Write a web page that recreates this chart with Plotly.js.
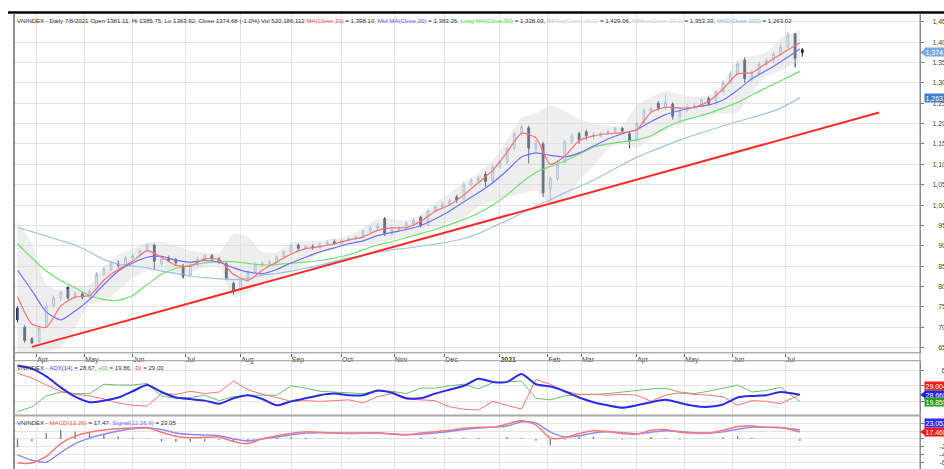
<!DOCTYPE html>
<html><head><meta charset="utf-8">
<script src="https://cdn.plot.ly/plotly-3.0.1.min.js"></script>
<style>html,body{margin:0;padding:0;background:#fff;overflow:hidden}#chart{width:944px;height:469px}</style>
</head><body><div id="chart"></div>
<script>
// ---- x axis: trading-day index (0 = 1 Apr 2020) ----
const monthTickDays = [0,20,40,62,85,106,127,149,170,193,213,227,250,270,290,312];
const monthTickText = ['Apr','May','Jun','Jul','Aug','Sep','Oct','Nov','Dec','<b>2021</b>','Feb','Mar','Apr','May','Jun','Jul'];

// ---- price candles (one candle every 3 trading days, last = 8 Jul 2021) ----
const openP = [747,700,672,666,700,754,772,798,772,782, 774,790,830,842,856,852,870,876,888,902, 856,868,866,850,828,856,866,876,868,856, 808,795,816,835,854,857,860,872,886,902, 894,898,896,904,910,906,914,918,922,936, 944,966,930,940,942,955,970,952,986,996, 1002,1020,1015,1050,1060,1076,1060,1094,1106,1140, 1178,1190,1138,1150,1040,1065,1105,1155,1175,1180, 1168,1170,1176,1180,1188,1175,1160,1202,1232,1250, 1238,1248,1218,1232,1240,1244,1262,1250,1278,1300, 1322,1356,1310,1322,1345,1355,1370,1388,1420,1381.11];
const highP = [752,705,676,702,760,778,790,800,788,786, 792,836,848,862,864,874,882,892,906,905, 874,876,870,856,858,872,880,880,872,860, 812,820,840,860,862,866,876,890,908,906, 902,904,908,914,916,918,922,926,940,948, 955,970,946,948,960,968,974,990,1000,1008, 1016,1025,1058,1066,1072,1082,1100,1110,1142,1180, 1198,1195,1160,1155,1070,1110,1160,1176,1180,1185, 1178,1180,1186,1192,1192,1180,1205,1238,1242,1255, 1272,1252,1238,1248,1252,1262,1266,1282,1306,1328, 1352,1362,1330,1352,1362,1376,1395,1424,1422,1385.75];
const lowP = [712,662,659,660,698,748,765,768,770,768, 770,788,826,838,846,850,864,872,884,840, 850,860,852,820,825,850,862,862,856,815, 780,790,812,830,848,850,856,868,882,888, 890,890,892,900,902,902,910,914,918,932, 938,924,926,934,938,950,945,948,980,990, 998,1005,1012,1045,1055,1045,1056,1090,1100,1135, 1170,1102,1130,1020,1006,1060,1100,1150,1150,1160, 1160,1166,1172,1175,1178,1140,1156,1198,1225,1232, 1234,1210,1205,1228,1236,1240,1245,1246,1274,1296, 1318,1300,1302,1318,1340,1350,1366,1384,1338,1363.92];
const closeP = [718,668,662,698,752,772,786,772,782,774, 788,830,842,856,852,870,876,888,902,862, 868,865,858,826,855,866,876,868,862,820, 790,815,835,854,857,860,872,886,900,894, 898,896,904,908,906,914,918,922,936,944, 948,930,940,942,955,962,950,986,996,1002, 1010,1012,1050,1060,1066,1058,1094,1105,1138,1175, 1192,1140,1152,1030,1065,1100,1155,1170,1160,1170, 1172,1176,1180,1188,1182,1158,1200,1232,1236,1238, 1252,1218,1232,1240,1244,1258,1250,1278,1300,1322, 1346,1310,1322,1345,1355,1370,1388,1418,1360,1374.68];
const candleDay = closeP.map((_, i) => i < closeP.length - 1 ? -8 + 3 * i : 319);

// ---- indicator series (one value every 6 trading days) ----
const ma10 = [775,708,700,752,774,778,816,842,862,888, 872,852,850,868,866,830,815,840,860,880, 893,898,905,914,922,938,944,945,960,985, 1000,1025,1055,1085,1130,1176,1165,1100,1120,1158, 1170,1175,1178,1185,1228,1240,1238,1240,1255,1285, 1322,1325,1348,1370,1398.10];
const ma20 = [840,790,738,718,740,768,805,838,858,872, 874,865,860,864,860,846,836,832,842,858, 872,885,895,905,912,925,933,940,950,966, 985,1008,1030,1055,1085,1118,1128,1122,1118,1128, 1145,1162,1175,1185,1205,1222,1232,1240,1246,1258, 1282,1310,1330,1352,1383.26];
const ma50 = [905,870,838,815,797,778,768,766,778,805, 830,845,852,858,862,861,857,853,854,857, 860,864,870,878,890,902,910,920,930,940, 952,965,980,1000,1025,1055,1080,1095,1108,1125, 1142,1150,1155,1160,1170,1190,1205,1215,1225,1238, 1252,1270,1288,1305,1328.03];
const ma100 = [945,935,924,913,902,885,866,855,850,846, 838,832,826,822,819,817,820,828,832,838, 845,852,862,870,876,884,890,894,899,904, 910,918,930,946,962,980,997,1013,1030,1045, 1061,1080,1099,1117,1132,1146,1160,1172,1183,1194, 1205,1215,1225,1238,1263.02];
const bbTop = [960,905,805,790,800,805,850,878,892,908, 910,900,888,884,882,930,922,885,884,908, 912,912,918,925,945,965,966,962,975,1005, 1030,1055,1078,1110,1160,1215,1225,1245,1230,1210, 1200,1195,1195,1245,1265,1280,1272,1265,1268,1300, 1355,1365,1375,1410,1429.06];
const bbBot = [630,625,640,650,700,755,765,790,820,838, 838,828,835,848,850,775,785,808,828,835, 860,880,892,900,902,905,915,922,930,945, 958,968,995,1010,1020,1028,1035,1000,1010,1060, 1095,1138,1150,1140,1165,1182,1200,1218,1222,1225, 1228,1275,1315,1330,1353.33];
const adx = [66,62,52,38,26,19,21,25,33,41, 32,25,23,21,17,24,28,23,15,20, 24,28,30,28,28,34,31,24,24,30, 35,40,49,45,45,55,42,39,33,25, 19,15,12,15,19,22,18,14,13,16, 25,27,28,32,28.67];
const plusDI = [7,13,27,32,30,30,42,41,41,43, 27,24,25,28,21,26,28,28,28,40, 37,33,32,31,30,33,33,30,37,37, 40,42,36,44,45,46,24,22,27,29, 29,30,32,34,36,37,32,30,33,37, 41,32,34,38,19.86];
const minusDI = [56,50,41,33,29,27,23,18,15,14, 30,29,33,30,32,46,35,29,25,20, 21,20,21,22,18,26,30,23,22,21, 13,10,9,20,15,10,48,42,33,29, 29,28,29,28,20,28,31,29,28,26, 15,21,20,17,29.00];
const macd = [-62,-62,-45,-12,7,17,23,26,28,29, 17,7,3,4,5,-7,-12,0,8,14, 18,17,15,14,15,16,12,10,15,18, 22,27,30,30,38,47,36,2,3,14, 21,19,14,12,22,24,17,15,15,22, 32,33,30,29,17.47];
const signal = [-41,-55,-60,-35,-12,2,12,20,26,28, 24,15,11,10,8,0,-5,0,5,10, 15,16,15,15,15,15,13,11,12,15, 19,24,28,30,33,44,41,18,5,8, 15,18,16,13,17,21,19,16,15,18, 25,30,30,29,23.05];
const hist = [-21,-7,15,23,19,15,11,6,2,1, -7,-8,-8,-6,-3,-7,-7,0,3,4, 3,1,0,-1,0,1,-1,-1,3,3, 3,3,2,0,5,3,-5,-16,-2,6, 6,1,-2,-1,5,3,-2,-1,0,4, 7,3,0,0,-5.6];
const indDay = ma10.map((_, i) => i < ma10.length - 1 ? -8 + 6 * i : 318);

// ---- support trend line ----
const trendDay = [-2, 351];
const trendVal = [652, 1227];

// ---- axis ticks ----
const priceTicks = [650,700,750,800,850,900,950,1000,1050,1100,1150,1200,1250,1300,1350,1400,1450];
const priceTickText = ['\u2007\u2008650','\u2007\u2008700','\u2007\u2008750','\u2007\u2008800','\u2007\u2008850','\u2007\u2008900','\u2007\u2008950','1,000','1,050','1,100','1,150','1,200','1,250','1,300','1,350','1,400','1,450'];
const adxTicks = [0,20,40,60];
const adxTickText = ['\u20070','20','40','60'];
const macdTicks = [-60,-40,-20,0,20,40];
const macdTickText = ['-60','-40','-20','\u2008\u20070','\u200820','\u200840'];

const smooth = {shape:'spline', smoothing:0.6};
const traces = [
  {type:'scatter', mode:'lines', x:indDay, y:bbTop, line:{color:'rgba(0,0,0,0)', width:0, ...smooth}, hoverinfo:'skip'},
  {type:'scatter', mode:'lines', x:indDay, y:bbBot, fill:'tonexty', fillcolor:'rgba(215,215,215,0.42)', line:{color:'rgba(0,0,0,0)', width:0, ...smooth}, hoverinfo:'skip'},
  {type:'scatter', mode:'lines', x:indDay, y:ma100, line:{color:'#9fc2ea', width:1.2, ...smooth}},
  {type:'scatter', mode:'lines', x:indDay, y:ma50, line:{color:'#6fe06f', width:1.2, ...smooth}},
  {type:'scatter', mode:'lines', x:indDay, y:ma20, line:{color:'#7070ff', width:1.2, ...smooth}},
  {type:'scatter', mode:'lines', x:indDay, y:ma10, line:{color:'#ff7070', width:1.2, ...smooth}},
  {type:'scatter', mode:'lines', x:trendDay, y:trendVal, line:{color:'#ff2a2a', width:2}},
  {type:'candlestick', x:candleDay, open:openP, high:highP, low:lowP, close:closeP,
   increasing:{line:{color:'#8cb3e0', width:1}, fillcolor:'#f4f8fd'},
   decreasing:{line:{color:'#15294a', width:1}, fillcolor:'#15294a'},
   whiskerwidth:0, hoverinfo:'skip'},
  // ADX panel
  {type:'scatter', mode:'lines', x:indDay, y:plusDI, yaxis:'y2', line:{color:'#6cbf6c', width:1}},
  {type:'scatter', mode:'lines', x:indDay, y:minusDI, yaxis:'y2', line:{color:'#ff7474', width:1}},
  {type:'scatter', mode:'lines', x:indDay, y:adx, yaxis:'y2', line:{color:'#2a2ae8', width:2, ...smooth}},
  // MACD panel
  {type:'bar', x:indDay, y:hist, yaxis:'y3', width:0.55, marker:{color:'#7a7a7a', line:{width:0}}},
  {type:'scatter', mode:'lines', x:indDay, y:signal, yaxis:'y3', line:{color:'#8c8cff', width:1.5, ...smooth}},
  {type:'scatter', mode:'lines', x:indDay, y:macd, yaxis:'y3', line:{color:'#ff7878', width:1.5, ...smooth}}
];

const H = 469, T = 14;
const pf = px => (H - px) / (H - T);       // pixel row -> paper fraction
const W0 = 14, PW = 906;
const xf = px => (px - W0) / PW;

const yAxisBase = {side:'right', anchor:'x', ticks:'outside', ticklen:3, tickcolor:'#777', ticklabelstandoff:7,
  showline:true, linecolor:'#8a8a8a', linewidth:1, showgrid:true, gridcolor:'#e4e4e4', zeroline:false,
  tickfont:{size:7, color:'#444'}, fixedrange:true, tickmode:'array'};

const colored = (c, t) => `<span style="color:${c}">${t}</span>`;
const annFont = {size:6.1, color:'#333', family:'"Liberation Sans", Arial, sans-serif'};
const box = (yref, v, txt, bg, shift) => ({xref:'paper', yref, x:1, y:v, xanchor:'left', yanchor:'middle',
  xshift:4, yshift:shift||0, text:txt, showarrow:false, bgcolor:bg, borderpad:0.5,
  font:{size:7, color:'#fff', family:'"Liberation Sans", Arial, sans-serif'}});
const tri = (yref, v, d, col) => ({type:'path', xref:'paper', yref,
  path:`M ${xf(920)},${v} L ${xf(925)},${v + d} L ${xf(925)},${v - d} Z`, fillcolor:col, line:{width:0}});

const layout = {
  width:944, height:469, margin:{l:14, r:24, t:14, b:0, pad:0},
  paper_bgcolor:'#fff', plot_bgcolor:'#fff', showlegend:false, boxgap:0.64,
  font:{family:'"Liberation Sans", Arial, sans-serif', size:7, color:'#333'},
  xaxis:{domain:[0,1], range:[-9.46, 368.04], anchor:'y', tickmode:'array', tickvals:monthTickDays, ticktext:monthTickText,
    ticks:'outside', ticklen:3, tickcolor:'#666', ticklabelposition:'outside right', showgrid:true, gridcolor:'#e4e4e4',
    zeroline:false, showline:false, rangeslider:{visible:false}, tickfont:{size:7, color:'#444'}, fixedrange:true},
  yaxis:{...yAxisBase, domain:[pf(352.7), 1], range:[637.7, 1468.9], tickvals:priceTicks, ticktext:priceTickText},
  yaxis2:{...yAxisBase, ticklabelstandoff:16, domain:[pf(415), pf(361)], range:[2.56, 71.8], tickvals:adxTicks, ticktext:adxTickText},
  yaxis3:{...yAxisBase, ticklabelstandoff:14, domain:[0, pf(416)], range:[-77.2, 58.7], tickvals:macdTicks, ticktext:macdTickText},
  annotations:[
    {xref:'paper', yref:'paper', x:0, y:1, xanchor:'left', yanchor:'top', xshift:1, yshift:-1, showarrow:false, font:annFont,
     text:'VNINDEX - Daily 7/8/2021 Open 1381.11, Hi 1385.75, Lo 1363.92, Close 1374.68 (-1.0%) Vol 520,186,112 ' +
       colored('#ff4a4a','MA(Close,10)') + ' = 1,398.10, ' + colored('#5a5aff','Mid MA(Close,20)') + ' = 1,383.26, ' +
       colored('#48e048','Long MA(Close,50)') + ' = 1,328.03, ' + colored('#d0d0d0','BBTop(Close,15,2)') + ' = 1,429.06, ' +
       colored('#d0d0d0','BBBot(Close,15,2)') + ' = 1,353.33, ' + colored('#86b2e6','MA1(Close,100)') + ' = 1,263.02'},
    {xref:'paper', yref:'paper', x:0, y:pf(361), xanchor:'left', yanchor:'top', xshift:1, yshift:-1, showarrow:false, font:annFont,
     text:'VNINDEX - ' + colored('#4a4aff','ADX(14)') + ' = 28.67, ' + colored('#3cbf3c','+DI') + ' = 19.86, ' + colored('#ff4a4a','-DI') + ' = 29.00'},
    {xref:'paper', yref:'paper', x:0, y:pf(416), xanchor:'left', yanchor:'top', xshift:1, yshift:-1, showarrow:false, font:annFont,
     text:'VNINDEX - ' + colored('#ff4a4a','MACD(12,26)') + ' = 17.47, ' + colored('#6a6aff','Signal(12,26,9)') + ' = 23.05'},
    box('y', 1374.68, '1,374.68', '#78a9dc'),
    box('y', 1263.02, '1,263.02', '#3f7fc6'),
    box('y2', 29.00, '29.004', '#ee1c1c', 8),
    box('y2', 28.67, '28.668', '#2323f0'),
    box('y2', 19.86, '19.855', '#22a022'),
    box('y3', 23.05, '23.052', '#2a2af0', 7),
    box('y3', 17.47, '17.468', '#ee1c1c')
  ],
  shapes:[
    tri('y', 1374.68, 8.5, '#78a9dc'),
    tri('y2', 28.67, 4.5, '#2323f0'),
    tri('y3', 17.47, 9, '#ee1c1c'),
    {type:'line', xref:'paper', yref:'paper', x0:xf(8), x1:xf(950), y0:pf(12.6), y1:pf(12.6), line:{color:'#000', width:2.5}},
    {type:'line', xref:'paper', yref:'paper', x0:0, x1:0, y0:0, y1:pf(13), line:{color:'#6a6a6a', width:1.5}},
    {type:'line', xref:'paper', yref:'paper', x0:1, x1:1, y0:0, y1:pf(13), line:{color:'#8a8a8a', width:1}},
    {type:'line', xref:'paper', yref:'paper', x0:0, x1:1, y0:pf(352.8), y1:pf(352.8), line:{color:'#8a8a8a', width:1}},
    {type:'line', xref:'paper', yref:'paper', x0:0, x1:1, y0:pf(360.7), y1:pf(360.7), line:{color:'#9a9a9a', width:1}},
    {type:'line', xref:'paper', yref:'paper', x0:0, x1:1, y0:pf(415.5), y1:pf(415.5), line:{color:'#a8a8a8', width:2}}
  ]
};

Plotly.newPlot('chart', traces, layout, {displayModeBar:false, staticPlot:true});
</script></body></html>
